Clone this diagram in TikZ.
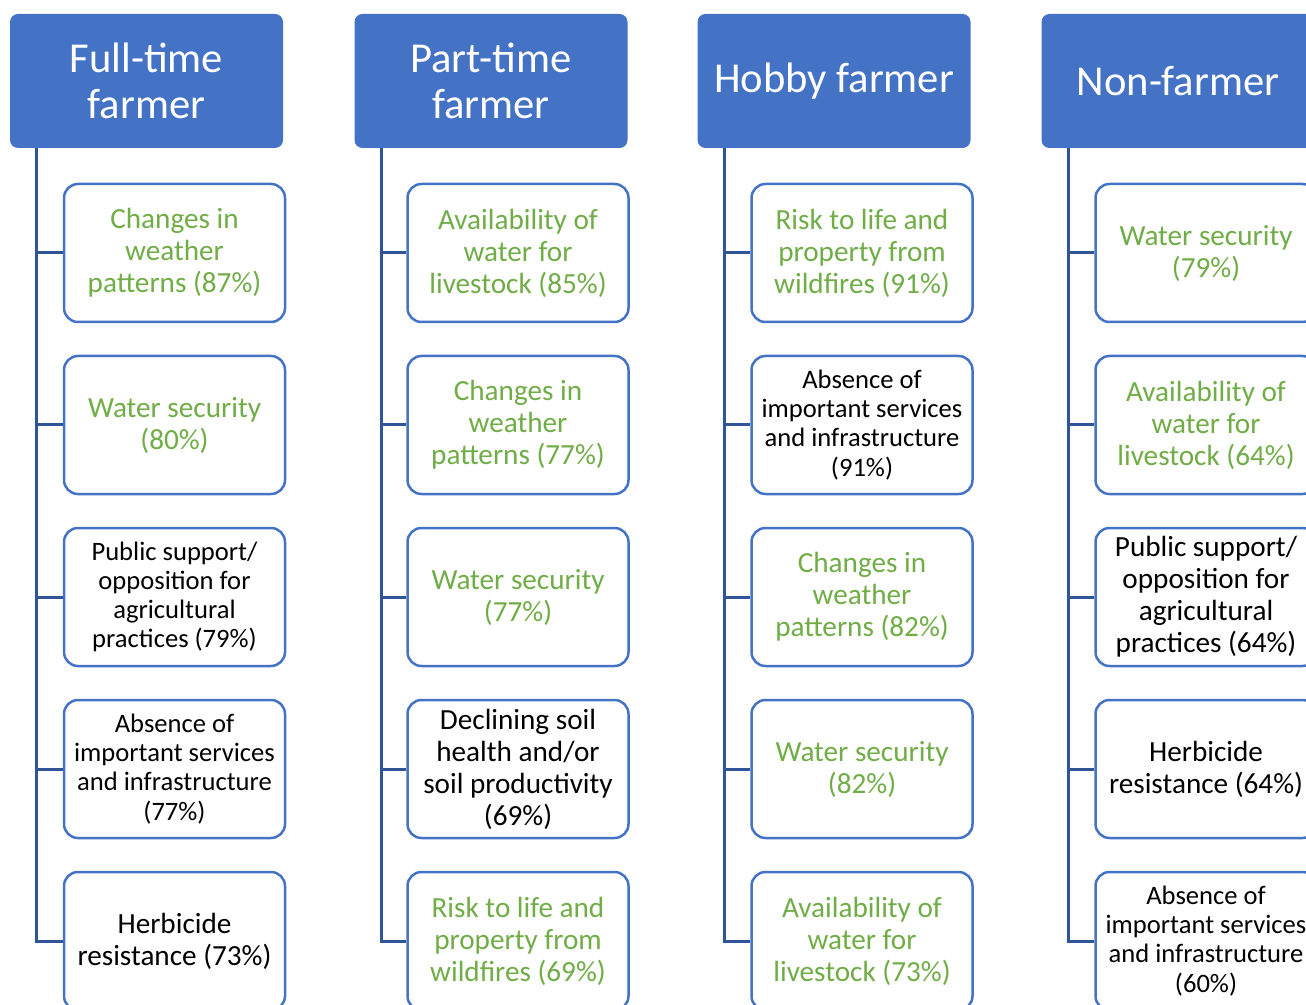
\documentclass[tikz,border=0pt]{standalone}
\usepackage{fontspec}
\setmainfont{Carlito}
\usetikzlibrary{calc}
\definecolor{hBlue}{HTML}{4472C4}
\definecolor{lBlue}{HTML}{2F5597}
\definecolor{tGreen}{HTML}{70AD47}
\tikzset{
    header/.style={
            fill=hBlue,
            rounded corners=4pt,
            text=white,
            align=center,
            inner sep=0pt,
            minimum width=136.5pt,
            minimum height=67pt,
            font=\fontsize{21.3}{23}\selectfont
        },
    item/.style={
            draw=hBlue,
            line width=1.25pt,
            fill=white,
            rounded corners=7pt,
            align=center,
            inner sep=0pt,
            minimum width=110.5pt,
            minimum height=69pt,
            font=\fontsize{14.6}{16}\selectfont
        },
    good/.style={
            text=tGreen
        },
    small/.style={
            font=\fontsize{13.3}{14.6}\selectfont
        },
    branch/.style={
            draw=lBlue,
            line width=1.5pt
        }
}

\begin{document}
\begin{tikzpicture}[x=0.5pt,y=-0.5pt]
    \useasboundingbox (0,0) rectangle (1306,1005);
    \clip (0,0) rectangle (1306,1005);
    % headers
    \node[header] (h1) at (146.5,81) {Full-time\\farmer};
    \node[header] (h2) at (491,81) {Part-time\\farmer};
    \node[header] (h3) at (834,81) {Hobby farmer};
    \node[header] (h4) at (1178,81) {Non-farmer};
    % full-time farmer
    \node[item,good] (c11) at (174.5,253) {Changes in\\weather\\patterns (87\%)};
    \node[item,good] (c12) at (174.5,425) {Water security\\(80\%)};
    \node[item,small] (c13) at (174.5,597) {Public support/\\opposition for\\agricultural\\practices (79\%)};
    \node[item,small] (c14) at (174.5,769) {Absence of\\important services\\and infrastructure\\(77\%)};
    \node[item] (c15) at (174.5,941) {Herbicide\\resistance (73\%)};
    % part-time farmer
    \node[item,good] (c21) at (518,253) {Availability of\\water for\\livestock (85\%)};
    \node[item,good] (c22) at (518,425) {Changes in\\weather\\patterns (77\%)};
    \node[item,good] (c23) at (518,597) {Water security\\(77\%)};
    \node[item] (c24) at (518,769) {Declining soil\\health and/or\\soil productivity\\(69\%)};
    \node[item,good] (c25) at (518,941) {Risk to life and\\property from\\wildfires (69\%)};
    % hobby farmer
    \node[item,good] (c31) at (862,253) {Risk to life and\\property from\\wildfires (91\%)};
    \node[item,small] (c32) at (862,425) {Absence of\\important services\\and infrastructure\\(91\%)};
    \node[item,good] (c33) at (862,597) {Changes in\\weather\\patterns (82\%)};
    \node[item,good] (c34) at (862,769) {Water security\\(82\%)};
    \node[item,good] (c35) at (862,941) {Availability of\\water for\\livestock (73\%)};
    % non-farmer
    \node[item,good] (c41) at (1206,253) {Water security\\(79\%)};
    \node[item,good] (c42) at (1206,425) {Availability of\\water for\\livestock (64\%)};
    \node[item] (c43) at (1206,597) {Public support/\\opposition for\\agricultural\\practices (64\%)};
    \node[item] (c44) at (1206,769) {Herbicide\\resistance (64\%)};
    \node[item,small] (c45) at (1206,941) {Absence of\\important services\\and infrastructure\\(60\%)};
    % tree lines
    \foreach \c in {1,...,4}
    \foreach \r in {1,...,5}
    \draw[branch] ($(h\c.south west)+(13.5pt,0)$) |- (c\c\r.west);
\end{tikzpicture}
\end{document}
